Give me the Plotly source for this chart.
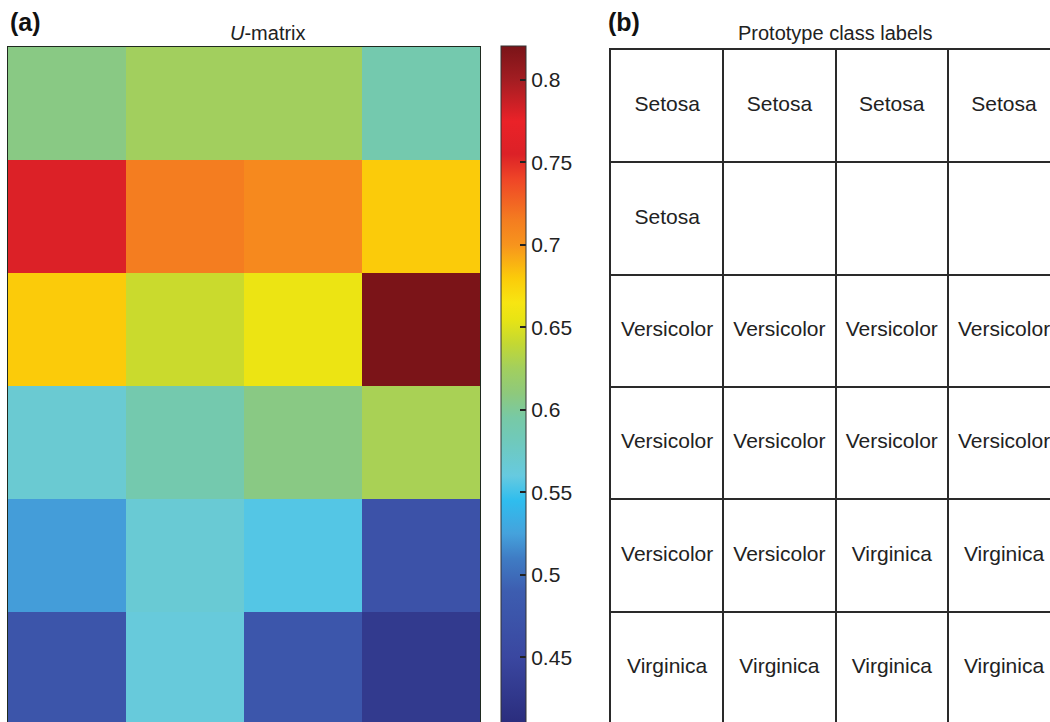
import plotly.graph_objects as go

# ---------------- data ----------------
# U-matrix values, rows listed from top to bottom, 4 columns each
umatrix_rows = [
    [0.607, 0.625, 0.625, 0.590],
    [0.755, 0.715, 0.707, 0.680],
    [0.680, 0.643, 0.658, 0.820],
    [0.568, 0.590, 0.607, 0.628],
    [0.523, 0.567, 0.555, 0.470],
    [0.475, 0.563, 0.478, 0.430],
]
cbar_ticks = [0.45, 0.5, 0.55, 0.6, 0.65, 0.7, 0.75, 0.8]
cbar_ticktext = ["0.45", "0.5", "0.55", "0.6", "0.65", "0.7", "0.75", "0.8"]
cmin, cmax = 0.409, 0.8206

# prototype class labels, rows top to bottom
label_rows = [
    ["Setosa", "Setosa", "Setosa", "Setosa"],
    ["Setosa", "", "", ""],
    ["Versicolor", "Versicolor", "Versicolor", "Versicolor"],
    ["Versicolor", "Versicolor", "Versicolor", "Versicolor"],
    ["Versicolor", "Versicolor", "Virginica", "Virginica"],
    ["Virginica", "Virginica", "Virginica", "Virginica"],
]

# colour map (value -> colour), jet-like as in the reference colour bar
cmap_values = [0.409, 0.45, 0.49, 0.51, 0.525, 0.545, 0.56, 0.58, 0.595, 0.61,
               0.625, 0.64, 0.655, 0.665, 0.68, 0.70, 0.715, 0.74, 0.755, 0.775,
               0.80, 0.8206]
cmap_colors = ["#2a2c7c", "#3a47a0", "#3d5db0", "#3f7cc4", "#45a2dc", "#2fbdee",
               "#66cae0", "#6fc9bd", "#77c9a6", "#8ec97c", "#a2cf5e", "#c3d833",
               "#e8e414", "#f7e512", "#fbcb0a", "#f7941d", "#f47d20", "#ef4527",
               "#dc2127", "#ea2228", "#a31d22", "#7a1418"]

# ---------------- figure ----------------
W, H = 1050, 722
FONT = "Liberation Sans, Arial, Helvetica, sans-serif"
colorscale = [[(v - cmin) / (cmax - cmin), c] for v, c in zip(cmap_values, cmap_colors)]

n_rows = len(umatrix_rows)
n_cols = len(umatrix_rows[0])

fig = go.Figure()

fig.add_trace(go.Heatmap(
    z=umatrix_rows,
    x=list(range(n_cols)),
    y=list(range(n_rows)),
    zmin=cmin, zmax=cmax,
    colorscale=colorscale,
    xaxis="x", yaxis="y",
    colorbar=dict(
        x=501 / W, xanchor="left", xpad=0,
        y=1 - 46 / H, yanchor="top", ypad=0,
        lenmode="pixels", len=679,
        thicknessmode="pixels", thickness=25,
        outlinewidth=1, outlinecolor="#333333",
        ticks="inside", ticklen=6, tickwidth=1.5, tickcolor="#222222",
        tickvals=cbar_ticks, ticktext=cbar_ticktext,
        tickfont=dict(family=FONT, size=21, color="#222222"),
    ),
    hoverinfo="skip",
))

# table labels
tx, ty, tt = [], [], []
for r, row in enumerate(label_rows):
    for c, lab in enumerate(row):
        if lab:
            tx.append(c + 0.5)
            ty.append(r + 0.5)
            tt.append(lab)

fig.add_trace(go.Scatter(
    x=tx, y=ty, text=tt, mode="text",
    textfont=dict(family=FONT, size=21, color="#222222"),
    xaxis="x2", yaxis="y2", cliponaxis=True, showlegend=False, hoverinfo="skip",
))

row_px = 113.0
fig.update_layout(
    width=W, height=H,
    margin=dict(l=0, r=0, t=0, b=0),
    paper_bgcolor="white", plot_bgcolor="white",
    showlegend=False,
    xaxis=dict(domain=[8 / W, 480 / W], range=[-0.5, n_cols - 0.5],
               showticklabels=False, ticks="", showgrid=False, zeroline=False,
               showline=True, mirror=True, linecolor="#1f2a1f", linewidth=1.2),
    yaxis=dict(domain=[0, 1 - 47 / H], range=[-0.5 + (H - 47) / row_px, -0.5],
               showticklabels=False, ticks="", showgrid=False, zeroline=False,
               showline=True, mirror=True, linecolor="#1f2a1f", linewidth=1.2),
    xaxis2=dict(domain=[611 / W, 1.0], range=[0, (W - 611) / 112.3],
                anchor="y2", side="top",
                tickvals=list(range(1, n_cols)), showticklabels=False, ticks="",
                showgrid=True, gridcolor="#2a2a2a", gridwidth=1.6, zeroline=False,
                showline=True, linecolor="#2a2a2a", linewidth=1.6),
    yaxis2=dict(domain=[0, 1 - 50 / H], range=[(H - 50) / 112.3, 0],
                anchor="x2", side="left",
                tickvals=list(range(1, n_rows)), showticklabels=False, ticks="",
                showgrid=True, gridcolor="#2a2a2a", gridwidth=1.6, zeroline=False,
                showline=True, linecolor="#2a2a2a", linewidth=1.6),
    annotations=[
        dict(text="<b>(a)</b>", x=8 / W, y=1 - 22 / H, xref="paper", yref="paper",
             xanchor="left", yanchor="middle", showarrow=False,
             font=dict(family=FONT, size=25, color="#111111")),
        dict(text="<i>U</i>-matrix", x=268 / W, y=1 - 33 / H, xref="paper", yref="paper",
             xanchor="center", yanchor="middle", showarrow=False,
             font=dict(family=FONT, size=20, color="#222222")),
        dict(text="<b>(b)</b>", x=606 / W, y=1 - 22 / H, xref="paper", yref="paper",
             xanchor="left", yanchor="middle", showarrow=False,
             font=dict(family=FONT, size=25, color="#111111")),
        dict(text="Prototype class labels", x=835 / W, y=1 - 33 / H, xref="paper", yref="paper",
             xanchor="center", yanchor="middle", showarrow=False,
             font=dict(family=FONT, size=20, color="#222222")),
    ],
)

fig.write_html("out.html", config={"displayModeBar": False},
               post_script="document.body.style.margin='0px';")
